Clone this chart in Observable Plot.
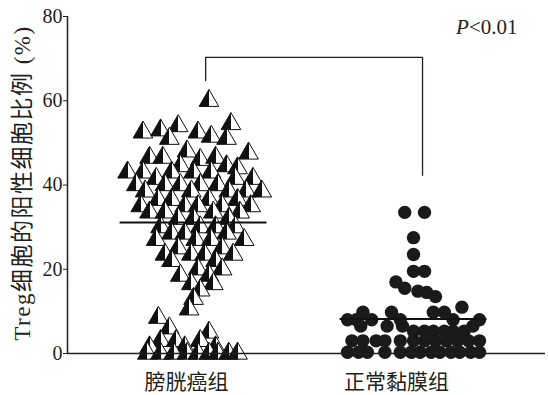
<!DOCTYPE html>
<html><head><meta charset="utf-8">
<script src="https://cdn.jsdelivr.net/npm/d3@7"></script>
<script src="https://cdn.jsdelivr.net/npm/@observablehq/plot@0.6"></script>
<style>body{margin:0;background:#fff}</style>
</head><body><div id="chart"></div>
<script>
const groups = ["膀胱癌组", "正常黏膜组"];
const yTicks = [0, 20, 40, 60, 80];
const yLabel = "Treg细胞的阳性细胞比例 (%)";
const pLabel = "P<0.01";

// 膀胱癌组 (triangles): value and horizontal offset from group centre
const cancerValues = [
  60,
  54, 54.5,
  52.5, 53, 52.5,
  51, 51.5, 51,
  48, 47.5,
  46.5, 46.5, 46, 46.5,
  44.5, 44.5, 44,
  43, 43, 43, 43, 43,
  41.5, 41.5, 41.5,
  40, 40, 40, 40, 40,
  38.5, 38.5, 38.5, 38.5, 38.5,
  36.5, 36.5, 36.5, 36.5,
  35, 35, 35, 35, 35,
  33.5, 33.5, 33.5, 33.5,
  32, 32, 32,
  30, 30, 30, 30,
  28.5, 28.5, 28.5,
  27, 27, 27, 27,
  25, 25,
  23.5, 23.5, 23.5, 23.5,
  22, 22,
  20, 20,
  18.5, 18.5,
  16.5, 16.5,
  15, 13, 10.5, 8.5, 6, 5,
  3, 3, 3,
  1.5, 1.5, 1.5,
  0, 0, 0, 0, 0, 0, 0, 0, 0
];
const cancerOffsets = [
  0.07,
  -0.07, 0.17,
  -0.23, -0.15, 0.02,
  -0.11, 0.08, 0.15,
  -0.03, 0.25,
  -0.20, -0.14, 0.03, 0.10,
  -0.06, 0.15, 0.20,
  -0.30, -0.23, -0.10, 0.0, 0.08,
  -0.17, 0.19, 0.27,
  -0.26, -0.13, -0.06, 0.03, 0.11,
  -0.22, -0.01, 0.16, 0.24, 0.31,
  -0.16, -0.10, 0.07, 0.20,
  -0.24, -0.04, 0.02, 0.13, 0.26,
  -0.20, -0.13, 0.09, 0.21,
  -0.07, 0.0, 0.16,
  -0.15, 0.03, 0.10, 0.19,
  -0.10, -0.04, 0.15,
  -0.17, 0.01, 0.08, 0.23,
  -0.07, 0.13,
  -0.13, -0.01, 0.05, 0.18,
  -0.10, 0.10,
  0.02, 0.13,
  -0.06, 0.07,
  -0.01, 0.09,
  0.03, 0.0, -0.02, -0.16, -0.11, 0.07,
  -0.15, -0.08, 0.03,
  -0.20, -0.04, 0.10,
  -0.21, -0.15, -0.09, -0.03, 0.02, 0.07, 0.11, 0.16, 0.20
];

// 正常黏膜组 (circles)
const normalValues = [
  33.5, 33.5,
  27.5, 23.5,
  19.5, 19.5,
  17, 15.5, 14.8, 14.5, 13.5,
  11,
  9.8, 9.8, 9.8, 9.8,
  8, 8, 8, 8, 8, 8,
  6.5, 6.5, 6.5, 6.5,
  5.3, 5.3, 5.3, 5.3, 5.3, 5.3,
  3, 3, 3, 3, 3, 3, 3, 3, 3, 3, 3, 3,
  0.3, 0.3, 0.3, 0.3, 0.3, 0.3, 0.3, 0.3, 0.3, 0.3, 0.3, 0.3, 0.3
];
const normalOffsets = [
  -0.04, 0.05,
  0.0, 0.0,
  0.0, 0.05,
  -0.08, -0.04, 0.02, 0.06, 0.10,
  0.22,
  -0.23, -0.10, 0.09, 0.14,
  -0.30, -0.26, -0.19, -0.06, 0.18, 0.30,
  -0.24, -0.12, -0.05, 0.27,
  0.0, 0.05, 0.09, 0.14, 0.18, 0.23,
  -0.28, -0.23, -0.17, -0.13, -0.06, 0.0, 0.05, 0.10, 0.15, 0.20, 0.25, 0.30,
  -0.30, -0.25, -0.21, -0.13, -0.06, -0.01, 0.03, 0.08, 0.12, 0.17, 0.21, 0.26, 0.30
];

const medians = [31.1, 8.2];
const bracketX = [1.055, 1.055, 2.041, 2.041];
const bracketY = [64.8, 70.3, 70.3, 42.3];

const cancer = cancerValues.map((v, i) => ({x: 1 + cancerOffsets[i], y: v}));
const normal = normalValues.map((v, i) => ({x: 2 + normalOffsets[i], y: v}));
const medianData = medians.map((m, i) => ({g: i + 1, y: m}));
const bracket = bracketX.map((x, i) => ({x, y: bracketY[i]}));
const xMin = 0.427, xMax = 2.6, halfW = 0.334;
const ink = "#231f20";

const chart = Plot.plot({
  width: 548, height: 395,
  marginLeft: 67, marginRight: 3, marginTop: 16, marginBottom: 42,
  x: {domain: [xMin, xMax], axis: null},
  y: {domain: [0, 80], axis: null},
  style: {fontFamily: "'Liberation Serif','Noto Sans CJK SC',serif", color: ink, background: "#fff", overflow: "visible"},
  marks: [
    Plot.dot(cancer, {x: "x", y: "y", symbol: "triangle", r: 7.3, fill: "url(#halfTri)", stroke: "#111", strokeWidth: 1}),
    Plot.dot(normal, {x: "x", y: "y", r: 6.7, fill: "#1a1a1a"}),
    Plot.ruleY(medianData, {y: "y", x1: d => d.g - halfW, x2: d => d.g + halfW, stroke: "#111", strokeWidth: 2}),
    Plot.line(bracket, {x: "x", y: "y", stroke: ink, strokeWidth: 1.3}),
    Plot.ruleX([xMin], {y1: 0, y2: 80, stroke: ink, strokeWidth: 1.5}),
    Plot.ruleY([0], {stroke: ink, strokeWidth: 1.5}),
    Plot.axisY(yTicks, {tickSize: 4, tickPadding: 1, fontSize: 20, stroke: ink, label: null}),
    Plot.axisX([1, 2], {tickSize: 6, tickFormat: () => "", stroke: ink, label: null}),
    Plot.axisX([1], {tickSize: 0, tickPadding: 21, tickFormat: () => groups[0], fontSize: 21, dx: -7, label: null}),
    Plot.axisX([2], {tickSize: 0, tickPadding: 21, tickFormat: () => groups[1], fontSize: 21, dx: -17, label: null}),
    Plot.text([yLabel], {frameAnchor: "left", textAnchor: "middle", lineAnchor: "middle", rotate: -90, dx: -45, dy: -2, fontSize: 23, fill: ink}),
    Plot.text([pLabel], {frameAnchor: "top-right", dx: -28, dy: 11, textAnchor: "end", lineAnchor: "middle", fontSize: 21, fill: ink})
  ]
});

const ns = "http://www.w3.org/2000/svg";
const defs = document.createElementNS(ns, "defs");
defs.innerHTML = '<linearGradient id="halfTri" x1="0" y1="0" x2="1" y2="0"><stop offset="0.5" stop-color="#111"/><stop offset="0.5" stop-color="#fff"/></linearGradient>';
chart.insertBefore(defs, chart.firstChild);
chart.querySelectorAll("text").forEach(t => {
  if (t.textContent === pLabel) {
    t.textContent = "";
    const a = document.createElementNS(ns, "tspan");
    a.setAttribute("font-style", "italic");
    a.textContent = "P";
    const b = document.createElementNS(ns, "tspan");
    b.textContent = "<0.01";
    t.appendChild(a); t.appendChild(b);
  }
  if (t.textContent === yLabel) t.setAttribute("letter-spacing", "1.5");
});
document.getElementById("chart").appendChild(chart);
</script>
</body></html>
